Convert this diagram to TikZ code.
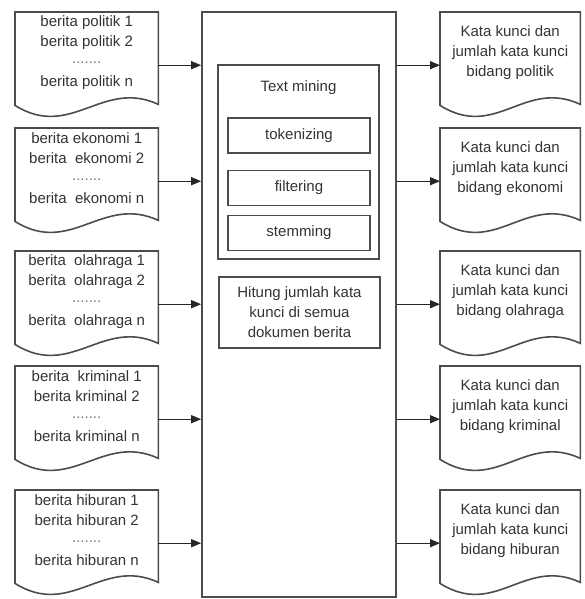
\documentclass[tikz,border=0pt]{standalone}
\usepackage{fontspec}
\setmainfont{Liberation Sans}
\usetikzlibrary{arrows.meta,positioning}

\newcommand{\docoutline}[1]{%
  \draw[outline] ([yshift=-13pt]#1.south west) -- (#1.north west) -- (#1.north east)
    -- ([yshift=-12pt]#1.south east)
    .. controls +(-56pt,26pt) and +(56pt,-35pt) .. ([yshift=-13pt]#1.south west) -- cycle;}
\newcommand{\dotline}{\raisebox{3pt}{\textcolor{black!55}{.......}}}

\begin{document}
\begin{tikzpicture}[
    x=1pt, y=1pt,
    every node/.style={font=\fontsize{15}{20}\selectfont, text=black!80},
    outline/.style={draw=black!70, line width=1.6pt},
    docu/.style={align=center, minimum width=143pt, minimum height=80pt, inner sep=0pt, anchor=north west},
    result/.style={docu, minimum width=140pt},
    procbox/.style={outline, minimum width=142pt, minimum height=35pt, inner sep=0pt},
    flow/.style={-{Triangle[length=10pt,width=8pt]}, draw=black!85, line width=1.3pt}
]
\useasboundingbox (0,0) rectangle (585,-599);
% news documents
\node[docu] (pol) at (15,-12) {berita politik 1\\berita politik 2\\\dotline\\berita politik n};
\node[docu] (eko) at (15,-128) {berita ekonomi 1\\berita\ \ ekonomi 2\\\dotline\\berita\ \ ekonomi n};
\node[docu] (ola) at (15,-251) {berita\ \ olahraga 1\\berita\ \ olahraga 2\\\dotline\\berita\ \ olahraga n};
\node[docu] (kri) at (15,-366) {berita\ \ kriminal 1\\berita kriminal 2\\\dotline\\berita kriminal n};
\node[docu] (hib) at (15,-490) {berita hiburan 1\\berita hiburan 2\\\dotline\\berita hiburan n};
% process
\node[outline, minimum width=194pt, minimum height=585pt, inner sep=0pt] (proc) at (299,-304.5) {};
\node[outline, minimum width=161pt, minimum height=194pt, inner sep=0pt] (tm) at (298.5,-162) {};
\node[below=13pt of tm.north] (tmlabel) {Text mining};
\node[procbox] (tok) at (299,-135.5) {tokenizing};
\node[procbox] (filt) at (299,-188) {filtering};
\node[procbox] (stem) at (299,-233) {stemming};
\node[outline, align=center, minimum width=161pt, minimum height=71pt, inner sep=0pt] (hit) at (299.5,-312.5) {Hitung jumlah kata\\kunci di semua\\dokumen berita};
% keyword results
\node[result] (kpol) at (440,-12) {Kata kunci dan\\jumlah kata kunci\\bidang politik};
\node[result] (keko) at (440,-128) {Kata kunci dan\\jumlah kata kunci\\bidang ekonomi};
\node[result] (kola) at (440,-251) {Kata kunci dan\\jumlah kata kunci\\bidang olahraga};
\node[result] (kkri) at (440,-366) {Kata kunci dan\\jumlah kata kunci\\bidang kriminal};
\node[result] (khib) at (440,-490) {Kata kunci dan\\jumlah kata kunci\\bidang hiburan};
\docoutline{pol}
\docoutline{eko}
\docoutline{ola}
\docoutline{kri}
\docoutline{hib}
\docoutline{kpol}
\docoutline{keko}
\docoutline{kola}
\docoutline{kkri}
\docoutline{khib}
\draw[flow] ([yshift=-13pt]pol.east) -- ([yshift=-13pt]pol.east -| proc.west);
\draw[flow] ([yshift=-13pt]eko.east) -- ([yshift=-13pt]eko.east -| proc.west);
\draw[flow] ([yshift=-13pt]ola.east) -- ([yshift=-13pt]ola.east -| proc.west);
\draw[flow] ([yshift=-13pt]kri.east) -- ([yshift=-13pt]kri.east -| proc.west);
\draw[flow] ([yshift=-13pt]hib.east) -- ([yshift=-13pt]hib.east -| proc.west);
\draw[flow] ([yshift=-13pt]pol.east -| proc.east) -- ([yshift=-13pt]pol.east -| kpol.west);
\draw[flow] ([yshift=-13pt]eko.east -| proc.east) -- ([yshift=-13pt]eko.east -| keko.west);
\draw[flow] ([yshift=-13pt]ola.east -| proc.east) -- ([yshift=-13pt]ola.east -| kola.west);
\draw[flow] ([yshift=-13pt]kri.east -| proc.east) -- ([yshift=-13pt]kri.east -| kkri.west);
\draw[flow] ([yshift=-13pt]hib.east -| proc.east) -- ([yshift=-13pt]hib.east -| khib.west);
\end{tikzpicture}
\end{document}
